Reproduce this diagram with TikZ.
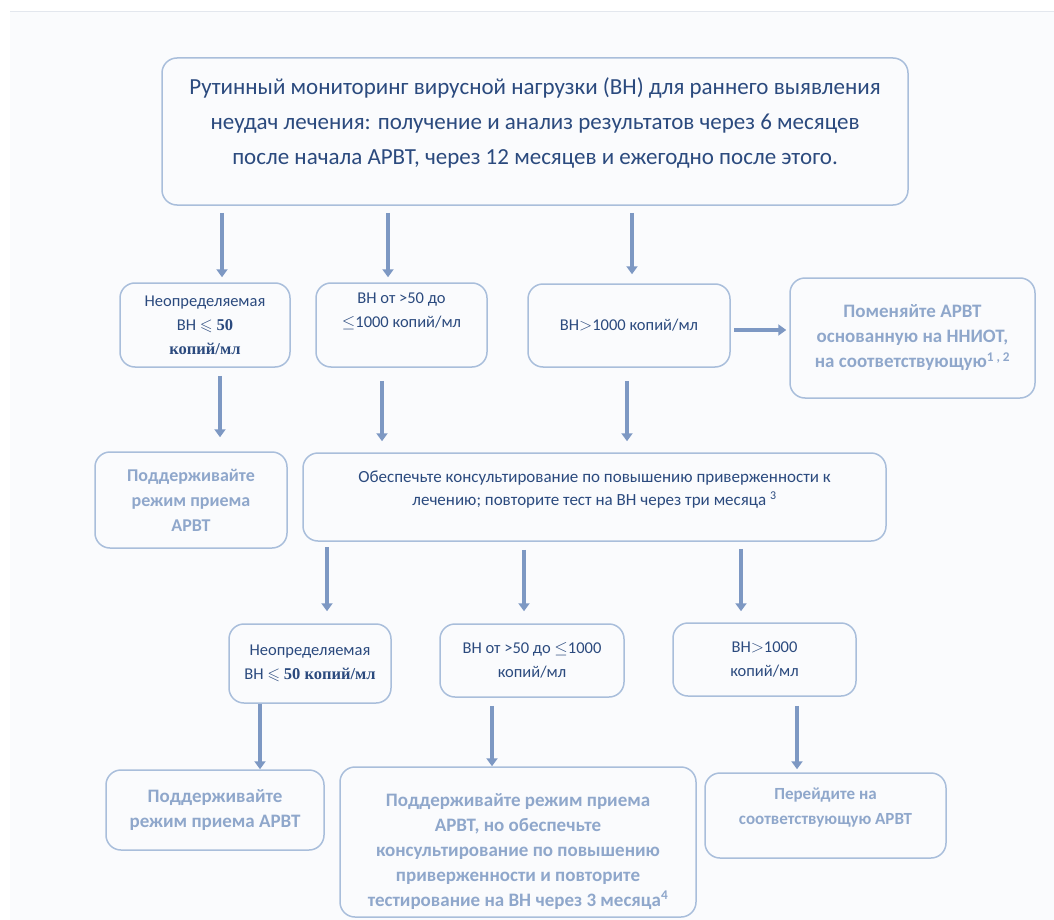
\documentclass[tikz,border=0pt]{standalone}
\usepackage{amssymb}
\usepackage{fontspec}
\setmainfont{Carlito}
\newfontfamily\serifb{Liberation Serif}
\usetikzlibrary{arrows.meta}

\definecolor{boxc}{HTML}{A9BEDB}
\definecolor{arrc}{HTML}{7D98C3}
\definecolor{darkt}{HTML}{2B4A7E}
\definecolor{lightt}{HTML}{8FA7CB}
\definecolor{bgc}{HTML}{FAFBFD}
\definecolor{linec}{HTML}{E3E7EE}

\begin{document}
\begin{tikzpicture}[x=1pt, y=-1pt,
  box/.style = {draw=boxc, line width=1.5pt, rounded corners=15pt, align=center, inner sep=0pt},
  dark/.style = {box, text=darkt, font=\fontsize{16.5}{24}\selectfont},
  light/.style = {box, text=lightt, font=\fontsize{19}{25}\selectfont\bfseries},
  arr/.style = {draw=arrc, line width=4pt, -{Triangle[width=11pt,length=8pt]}}]
\useasboundingbox (0,0) rectangle (1054,920);
\fill[bgc] (10,12) rectangle (1054,920);
\draw[linec, line width=1pt] (10,11.5) -- (1054,11.5);

% top box
\node[box, text=darkt, font=\fontsize{23}{35}\selectfont, minimum width=746pt, minimum height=147pt] (t) at (535,131.5)
  {Рутинный мониторинг вирусной нагрузки (ВН) для раннего выявления\\
   неудач лечения: получение и анализ результатов через 6 месяцев\\
   после начала АРВТ, через 12 месяцев и ежегодно после этого.\\[-24pt]\strut};

% first test
\node[dark, minimum width=170pt, minimum height=84pt] (a1) at (205,325)
  {Неопределяемая\\ВН $\leqslant$ {\serifb\bfseries 50}\\{\serifb\bfseries копий/мл}};
\node[dark, minimum width=171pt, minimum height=84pt] (a2) at (401.5,325)
  {ВН от >50 до\\$\leq$1000 копий/мл\\[-1pt]\strut};
\node[dark, minimum width=202pt, minimum height=83pt] (a3) at (629,325.5)
  {ВН$>$1000 копий/мл};
\node[light, minimum width=245pt, minimum height=120pt] (a4) at (912.5,338)
  {Поменяйте АРВТ\\основанную на ННИОТ,\\на соответствующую\textsuperscript{1 , 2}};

% after first test
\node[light, font=\fontsize{18}{25}\selectfont\bfseries, minimum width=192pt, minimum height=96pt] (b1) at (191,500)
  {Поддерживайте\\режим приема\\АРВТ};
\node[dark, font=\fontsize{17}{23}\selectfont, minimum width=583pt, minimum height=88pt] (b2) at (594.5,497)
  {Обеспечьте консультирование по повышению приверженности к\\
   лечению; повторите тест на ВН через три месяца \textsuperscript{3}\\[-12pt]\strut};

% second test
\node[dark, minimum width=162pt, minimum height=79pt] (c1) at (310,663.5)
  {Неопределяемая\\ВН $\leqslant$ {\serifb\bfseries 50 копий/мл}};
\node[dark, minimum width=184pt, minimum height=73pt] (c2) at (532,660.5)
  {ВН от >50 до $\leq$1000\\копий/мл};
\node[dark, minimum width=183pt, minimum height=73pt] (c3) at (764.5,659.5)
  {ВН$>$1000\\копий/мл};

% result
\node[light, minimum width=218pt, minimum height=80pt] (d1) at (215,810)
  {Поддерживайте\\режим приема АРВТ};
\node[light, minimum width=356pt, minimum height=150pt] (d2) at (518,842)
  {\strut\\[-11pt]Поддерживайте режим приема\\АРВТ, но обеспечьте\\консультирование по повышению\\
   приверженности и повторите\\тестирование на ВН через 3 месяца\textsuperscript{4}};
\node[light, font=\fontsize{17}{25}\selectfont\bfseries, minimum width=241pt, minimum height=85pt] (d3) at (825.5,815.5)
  {Перейдите на\\соответствующую АРВТ\\[-13pt]\strut};

\draw[arr, shorten <=7pt, shorten >=5pt] (t.south -| 222,0) -- (a1.north -| 222,0);
\draw[arr, shorten <=7pt, shorten >=5pt] (t.south -| 388,0) -- (a2.north -| 388,0);
\draw[arr, shorten <=7pt, shorten >=9pt] (t.south -| 632,0) -- (a3.north -| 632,0);
\draw[arr, shorten <=3pt, shorten >=3pt] (a3.east |- 0,330) -- (a4.west |- 0,330);
\draw[arr, shorten <=8pt, shorten >=14pt] (a1.south -| 220,0) -- (b1.north -| 220,0);
\draw[arr, shorten <=13pt, shorten >=11pt] (a2.south -| 382,0) -- (b2.north -| 382,0);
\draw[arr, shorten <=13pt, shorten >=11pt] (a3.south -| 627,0) -- (b2.north -| 627,0);
\draw[arr, shorten <=5pt, shorten >=12pt] (b2.south -| 327,0) -- (c1.north -| 327,0);
\draw[arr, shorten <=8pt, shorten >=12pt] (b2.south -| 524,0) -- (c2.north -| 524,0);
\draw[arr, shorten <=7pt, shorten >=11pt] (b2.south -| 741,0) -- (c3.north -| 741,0);
\draw[arr, shorten <=0pt, shorten >=0pt] (c1.south -| 260,0) -- (d1.north -| 260,0);
\draw[arr, shorten <=8pt, shorten >=0pt] (c2.south -| 492,0) -- (d2.north -| 492,0);
\draw[arr, shorten <=9pt, shorten >=3pt] (c3.south -| 797,0) -- (d3.north -| 797,0);
\end{tikzpicture}
\end{document}
